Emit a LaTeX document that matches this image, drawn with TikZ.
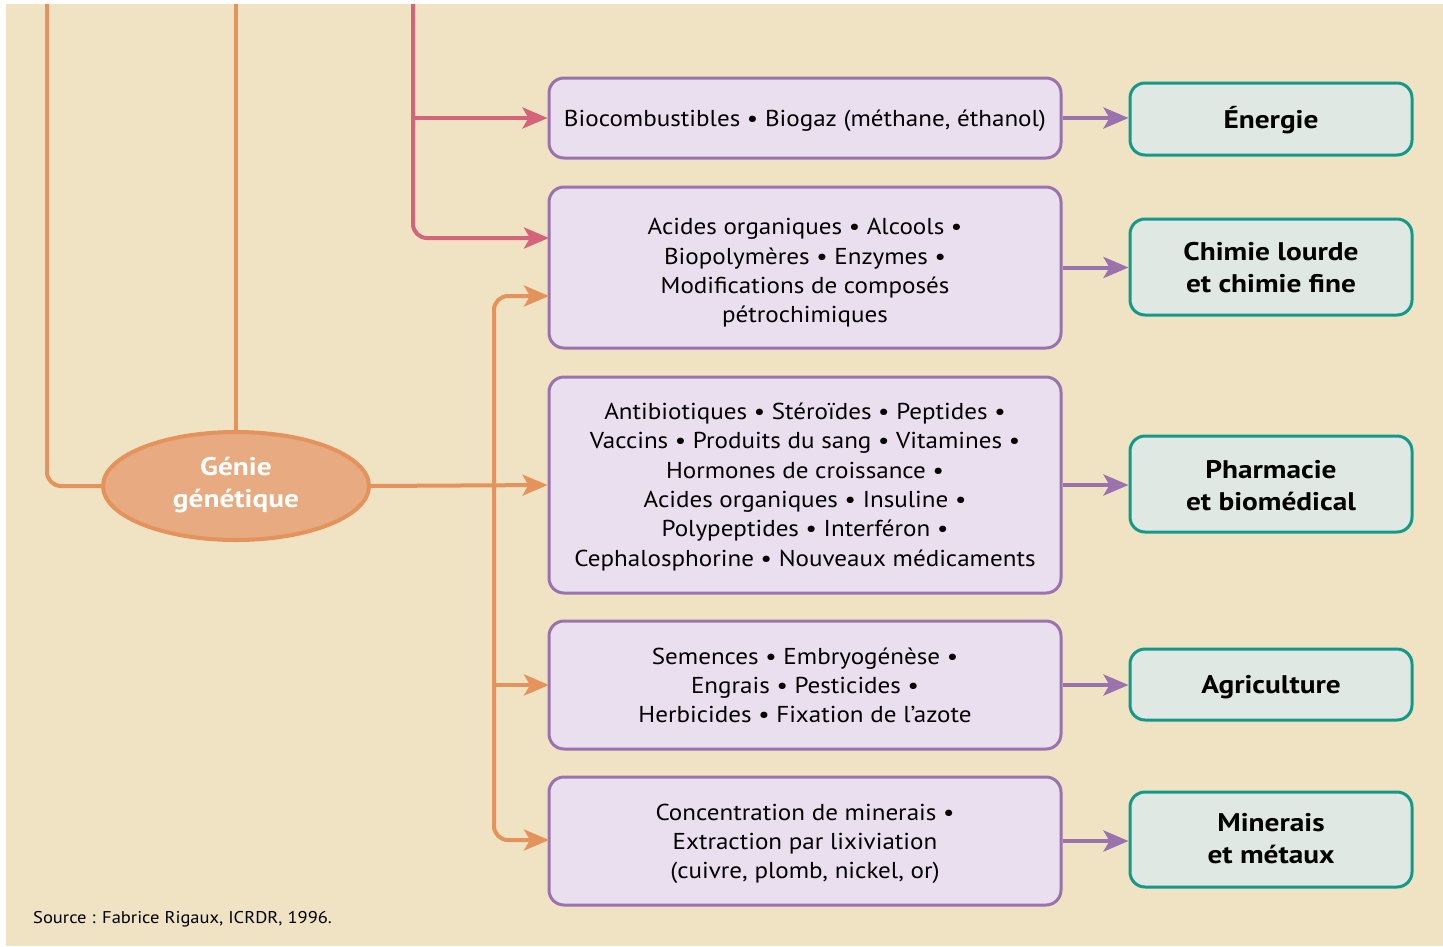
\documentclass[tikz,border=0pt]{standalone}
\usepackage{fontspec}
\setmainfont{PT Sans}[FakeStretch=1.09,BoldFeatures={FakeStretch=1.15}]
\usetikzlibrary{arrows.meta,calc,shapes.geometric}
\definecolor{bgbeige}{HTML}{F0E3C3}
\definecolor{oline}{HTML}{E5935C}
\definecolor{ofill}{HTML}{E8AA80}
\definecolor{rline}{HTML}{D3647A}
\definecolor{pline}{HTML}{9A72AE}
\definecolor{pfill}{HTML}{EADFEE}
\definecolor{tline}{HTML}{12998A}
\definecolor{tfill}{HTML}{E0E8E3}
\newcommand\mytop[1]{\rule{0pt}{#1}}
\newcommand\mybot[1]{\rule[-#1]{0pt}{0pt}}
\tikzset{
  x=1pt,y=-1pt,
  midbox/.style={draw=pline,fill=pfill,line width=3pt,rounded corners=15pt,minimum width=512pt,align=center,font=\fontsize{23}{29.3}\selectfont,inner sep=0pt},
  resbox/.style={draw=tline,fill=tfill,line width=3pt,rounded corners=15pt,minimum width=282pt,align=center,font=\fontsize{25.5}{32}\selectfont\bfseries,inner sep=0pt},
  tip/.style={-{Stealth[length=25pt,width=21pt,inset=6pt]}},
  oconn/.style={draw=oline,line width=4pt,rounded corners=14pt},
  rconn/.style={draw=rline,line width=4pt,rounded corners=14pt},
  pconn/.style={draw=pline,line width=4pt},
}
\begin{document}
\begin{tikzpicture}
\fill[white] (0,0) rectangle (1443,946);
\useasboundingbox (0,0) rectangle (1443,946);
\fill[bgbeige] (6,4) rectangle (1443,946);

% middle boxes
\node[midbox,minimum height=80pt] (b1) at (805,118) {\mytop{26.5pt}Biocombustibles • Biogaz (méthane, éthanol)\mybot{8.8pt}};
\node[midbox,minimum height=161pt] (b2) at (805,267.5) {\mytop{31.5pt}Acides organiques • Alcools •\\Biopolymères • Enzymes •\\Modifications de composés\\pétrochimiques\mybot{8.8pt}};
\node[midbox,minimum height=216pt] (b3) at (805,485) {\mytop{24.5pt}Antibiotiques • Stéroïdes • Peptides •\\Vaccins • Produits du sang • Vitamines •\\Hormones de croissance •\\Acides organiques • Insuline •\\Polypeptides • Interféron •\\Cephalosphorine • Nouveaux médicaments\mybot{8.8pt}};
\node[midbox,minimum height=128pt] (b4) at (805,685) {\mytop{25.5pt}Semences • Embryogénèse •\\Engrais • Pesticides •\\Herbicides • Fixation de l’azote\mybot{8.8pt}};
\node[midbox,minimum height=128pt] (b5) at (805,841) {\mytop{25.5pt}Concentration de minerais •\\Extraction par lixiviation\\(cuivre, plomb, nickel, or)\mybot{8.8pt}};

% result boxes
\node[resbox,minimum height=72pt] (r1) at (1271,119) {\mytop{28.4pt}Énergie\mybot{9.6pt}};
\node[resbox,minimum height=96pt] (r2) at (1271,267) {\mytop{28.4pt}Chimie lourde\\et chimie fine\mybot{9.6pt}};
\node[resbox,minimum height=96pt] (r3) at (1271,484) {\mytop{30.4pt}Pharmacie\\et biomédical\mybot{9.6pt}};
\node[resbox,minimum height=71pt] (r4) at (1271,684.5) {\mytop{28.4pt}Agriculture\mybot{9.6pt}};
\node[resbox,minimum height=95pt] (r5) at (1271,839.5) {\mytop{25.4pt}Minerais\\et métaux\mybot{9.6pt}};

% ellipse
\node[ellipse,draw=oline,fill=ofill,line width=4pt,minimum width=266pt,minimum height=108pt,inner sep=0pt,align=center,text=white,font=\fontsize{25.5}{32}\selectfont\bfseries] (g) at (236,486) {\mytop{20.4pt}Génie\\génétique\mybot{9.6pt}};

% coordinates
\coordinate (otopA) at (47,4);
\coordinate (otopB) at (236,4);
\coordinate (rtop) at (413,4);
\coordinate (rj) at (413,118);
\coordinate (b2r) at (549,238);
\coordinate (b2o) at (549,296);
\coordinate (ov) at (494,486);
\coordinate (ov4) at (494,685);
\coordinate (b4w) at (549,685);
\coordinate (b5w) at (549,840);

% orange connectors
\draw[oconn] (otopA) |- (g.west);
\draw[oconn] (otopB) -- (g.north);
\draw[oconn,tip] (ov) |- (b2o);
\draw[oconn,tip] (ov) |- (b5w);
\draw[oconn,tip] (g.east) -- (b3.west);
\draw[oconn,tip] (ov4) -- (b4w);

% red connectors
\draw[rconn,tip] (rtop) |- (b2r);
\draw[rconn,tip] (rj) -- (b1.west);

% purple connectors
\draw[pconn,tip] (b1.east) -- (r1.west |- b1.east);
\draw[pconn,tip] (b2.east) -- (r2.west |- b2.east);
\draw[pconn,tip] (b3.east) -- (r3.west |- b3.east);
\draw[pconn,tip] (b4.east) -- (r4.west |- b4.east);
\draw[pconn,tip] (b5.east) -- (r5.west |- b5.east);

\node[anchor=base west,font=\fontsize{17}{20}\selectfont,inner sep=0pt] (src) at (33,923) {Source : Fabrice Rigaux, ICRDR, 1996.};
\end{tikzpicture}
\end{document}
